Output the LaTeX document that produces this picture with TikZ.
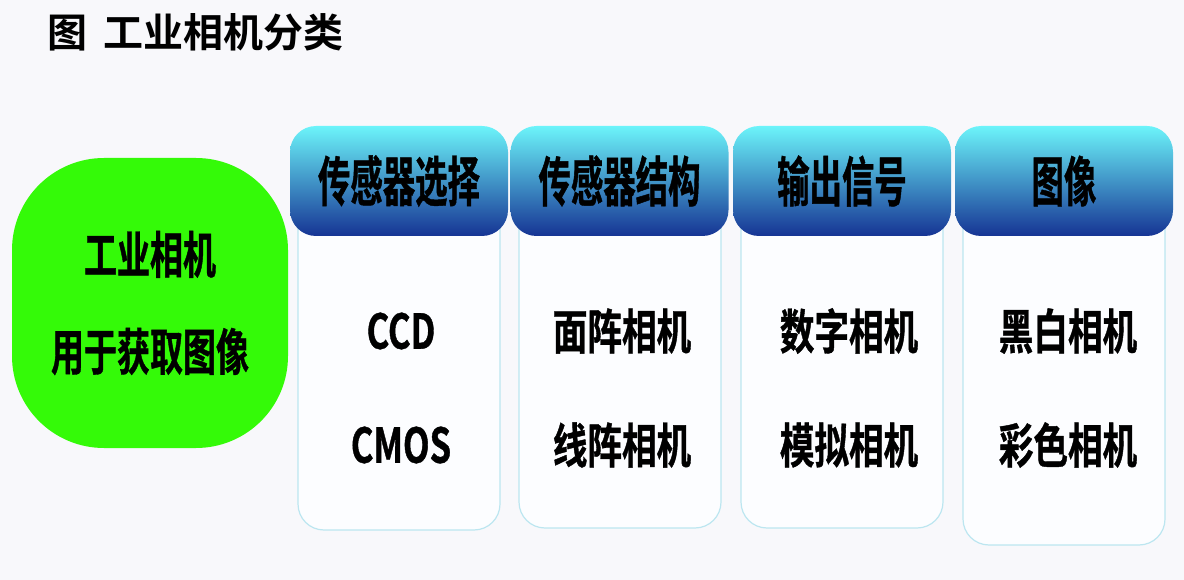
\documentclass[tikz,border=0pt]{standalone}
\usepackage{fontspec}
\setmainfont{Noto Sans CJK SC Bold}
\newfontfamily\titlefont{Noto Sans CJK SC Bold}
\newfontfamily\headfont{Noto Sans CJK SC Bold}[FakeStretch=0.6, FakeBold=0.8]
\newfontfamily\itemfont{Noto Sans CJK SC Bold}[FakeStretch=0.72, FakeBold=0.8]
\newfontfamily\rootfont{Noto Sans CJK SC Bold}[FakeStretch=0.66, FakeBold=0.8]
\usetikzlibrary{positioning}
\definecolor{bgcol}{RGB}{248,248,251}
\definecolor{greencol}{RGB}{52,250,8}
\definecolor{cyantop}{RGB}{108,244,250}
\definecolor{cyanmid}{RGB}{62,190,230}
\definecolor{bluebot}{RGB}{22,52,148}
\definecolor{bodyline}{RGB}{188,230,240}
\definecolor{bodyfill}{RGB}{252,253,255}
\tikzset{
    titlenode/.style = {anchor=west, inner sep=0pt, font=\titlefont\fontsize{40}{42}\selectfont},
    rootbox/.style = {rectangle, rounded corners=92pt, fill=greencol, minimum width=276pt, minimum height=290pt, align=center, inner sep=0pt, font=\rootfont\fontsize{50}{97}\selectfont},
    headbox/.style = {rectangle, rounded corners=26pt, top color=cyantop, middle color=cyanmid, bottom color=bluebot, minimum width=218pt, minimum height=110pt, inner sep=0pt, font=\headfont\fontsize{54}{56}\selectfont},
    bodybox/.style = {rectangle, rounded corners=26pt, draw=bodyline, line width=1.2pt, fill=bodyfill, minimum width=202pt, inner sep=0pt},
    itemtext/.style = {inner sep=0pt, font=\itemfont\fontsize{48}{50}\selectfont}
}
\begin{document}
\begin{tikzpicture}[x=1pt, y=-1pt]
\fill[bgcol] (0, 0) rectangle (1184, 580);
\useasboundingbox (0, 0) rectangle (1184, 580);
%
\node[titlenode] at (47, 32) (title) {图\hspace{0.4em}工业相机分类};
%
\node[rootbox] at (150, 303) (camera) {工业相机\\用于获取图像};
%
\node[bodybox, minimum height=330pt] at (399, 365) (b1) {};
\node[bodybox, minimum height=328pt] at (620, 364) (b2) {};
\node[bodybox, minimum height=328pt] at (842, 364) (b3) {};
\node[bodybox, minimum height=345pt] at (1064, 372.5) (b4) {};
%
\node[headbox] at (399, 181) (h1) {传感器选择};
\node[headbox] at (619.5, 181) (h2) {传感器结构};
\node[headbox] at (842, 181) (h3) {输出信号};
\node[headbox] at (1064, 181) (h4) {图像};
%
\node[itemtext] at (401, 331) (ccd) {CCD};
\node[itemtext] at (401, 445) (cmos) {CMOS};
\node[itemtext] at (622, 331) (area) {面阵相机};
\node[itemtext] at (622, 445) (line) {线阵相机};
\node[itemtext] at (849, 331) (digital) {数字相机};
\node[itemtext] at (849, 445) (analog) {模拟相机};
\node[itemtext] at (1068, 331) (mono) {黑白相机};
\node[itemtext] at (1068, 445) (color) {彩色相机};
\end{tikzpicture}
\end{document}
